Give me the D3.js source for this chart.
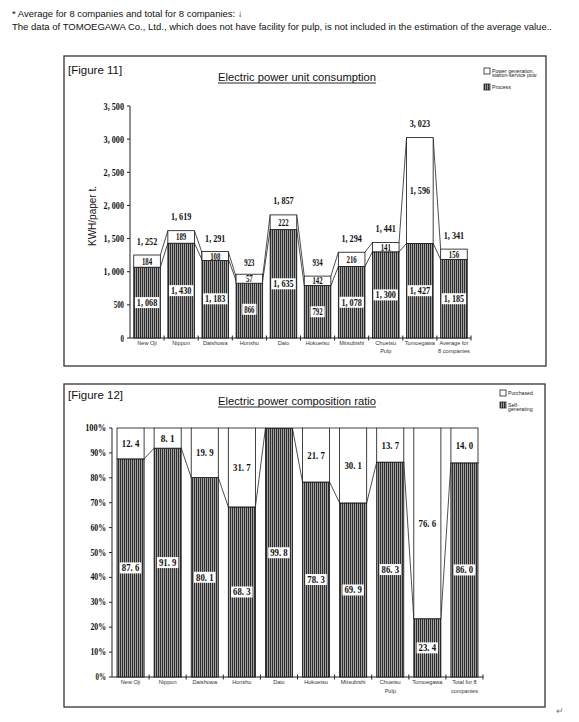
<!DOCTYPE html>
<html><head><meta charset="utf-8">
<script src="https://cdn.jsdelivr.net/npm/d3@7"></script>
<style>
html,body{margin:0;padding:0;background:#fff;}
svg{display:block;}
</style></head>
<body>
<svg id="c" width="579" height="722"></svg>
<script>
// ---------- DATA ----------
const notes = [
  "* Average for 8 companies and total for 8 companies: \u2193",
  "The data of TOMOEGAWA Co., Ltd., which does not have facility for pulp, is not included in the estimation of the average value.."
];
const categories11 = ["New Oji","Nippon","Daishowa","Honshu","Daio","Hokuetsu","Mitsubishi","Chuetsu\nPulp","Tomoegawa","Average for\n8 companies"];
const process11 = [1068,1430,1183,866,1635,792,1078,1300,1427,1185];
const powerGen11 = [184,189,108,57,222,142,216,141,1596,156];
const total11 = [1252,1619,1291,923,1857,934,1294,1441,3023,1341];
const yTicks11 = [0,500,1000,1500,2000,2500,3000,3500];
const legend11 = [["Power generation,","station-service pow"],["Process"]];

const categories12 = ["New Oji","Nippon","Daishowa","Honshu","Daio","Hokuetsu","Mitsubishi","Chuetsu\nPulp","Tomoegawa","Total for 8\ncompanies"];
const selfGen12 = [87.6,91.9,80.1,68.3,99.8,78.3,69.9,86.3,23.4,86.0];
const purchased12 = [12.4,8.1,19.9,31.7,0.2,21.7,30.1,13.7,76.6,14.0];
const yTicks12 = [0,10,20,30,40,50,60,70,80,90,100];
const legend12 = [["Purchased"],["Self-","generating"]];

// ---------- DRAW ----------
const svg = d3.select("#c");
const defs = svg.append("defs");
const pat = defs.append("pattern").attr("id","hatch").attr("patternUnits","userSpaceOnUse")
  .attr("width",2).attr("height",4);
pat.append("rect").attr("width",2).attr("height",4).attr("fill","#a0a0a0");
pat.append("rect").attr("width",1).attr("height",4).attr("fill","#2e2e2e");

const SANS = "'Liberation Sans', Arial, sans-serif";
const NUM = "'Liberation Serif', 'DejaVu Serif', serif";

// notes
svg.append("text").attr("x",12).attr("y",17).attr("font-family",SANS).attr("font-size",9.5)
  .attr("fill","#111").text(notes[0]);
svg.append("text").attr("x",12).attr("y",30).attr("font-family",SANS).attr("font-size",9.5)
  .attr("fill","#111").attr("textLength",540).attr("lengthAdjust","spacingAndGlyphs").text(notes[1]);
svg.append("text").attr("x",556).attr("y",714).attr("font-family",SANS).attr("font-size",9)
  .attr("fill","#777").text("\u21B5");

function fmtK(v){ return d3.format(",")(v).replace(",", ", "); }
function fmtP(v){ return v.toFixed(1).replace(".", ". "); }

function numText(g, x, y, str, size, perChar, anchor){
  const t = g.append("text").attr("x",x).attr("y",y).attr("font-family",NUM)
    .attr("font-weight","bold").attr("font-size",size).attr("fill","#111")
    .attr("text-anchor",anchor||"middle").attr("dominant-baseline","central").text(str);
  if (perChar) t.attr("textLength", str.length*perChar).attr("lengthAdjust","spacingAndGlyphs");
  return t;
}

function drawChart(cfg){
  const g = svg.append("g");
  g.append("rect").attr("x",cfg.frame[0]).attr("y",cfg.frame[1])
    .attr("width",cfg.frame[2]-cfg.frame[0]).attr("height",cfg.frame[3]-cfg.frame[1])
    .attr("fill","none").attr("stroke","#333").attr("stroke-width",1.3);
  g.append("text").attr("x",cfg.frame[0]+4).attr("y",cfg.figY).attr("font-family",SANS)
    .attr("font-size",11.5).attr("fill","#111").text(cfg.figLabel);
  g.append("text").attr("x",cfg.frame[0]+4+cfg.figW).attr("y",cfg.figY).attr("font-family",SANS)
    .attr("font-size",6).attr("fill","#999").text(".");
  const tt = g.append("text").attr("x",cfg.titleX).attr("y",cfg.titleY).attr("font-family",SANS)
    .attr("font-size",11.2).attr("fill","#111").attr("text-anchor","middle").text(cfg.title);
  const bb = tt.node().getBBox();
  g.append("line").attr("x1",bb.x).attr("x2",bb.x+bb.width).attr("y1",cfg.titleY+2).attr("y2",cfg.titleY+2)
    .attr("stroke","#111").attr("stroke-width",0.9);
  g.append("text").attr("x",bb.x+bb.width+2).attr("y",cfg.titleY).attr("font-family",SANS)
    .attr("font-size",6).attr("fill","#999").text(".");

  cfg.legend.forEach((lines,i)=>{
    const ly = cfg.legendY[i];
    g.append("rect").attr("x",cfg.legendX).attr("y",ly).attr("width",6).attr("height",6)
      .attr("fill", i===0 ? "#fff" : "url(#hatch)").attr("stroke","#222").attr("stroke-width",0.8);
    lines.forEach((ln,j)=>{
      g.append("text").attr("x",cfg.legendX+8).attr("y",ly+4.5+j*4.8).attr("font-family",SANS)
        .attr("font-size",5.2).attr("fill","#222").text(ln);
    });
  });

  const x = d3.scaleBand().domain(cfg.cats).range(cfg.xRange)
    .paddingInner(cfg.padIn).paddingOuter(cfg.padIn/2);
  const y = d3.scaleLinear().domain(cfg.yDomain).range(cfg.yRange);
  const bw = x.bandwidth();
  const step = x.step();

  g.append("line").attr("x1",cfg.xRange[0]).attr("x2",cfg.xRange[0])
    .attr("y1",y(cfg.yDomain[0])).attr("y2",y(cfg.yDomain[1])).attr("stroke","#222").attr("stroke-width",1);
  cfg.yTicks.forEach(t=>{
    g.append("line").attr("x1",cfg.xRange[0]-3).attr("x2",cfg.xRange[0]).attr("y1",y(t)).attr("y2",y(t))
      .attr("stroke","#222");
    numText(g, cfg.xRange[0]-6, y(t), cfg.yFmt(t), cfg.tickSize, cfg.tickPerChar, "end");
  });
  g.append("line").attr("x1",cfg.xRange[0]).attr("x2",cfg.xRange[1])
    .attr("y1",y(0)).attr("y2",y(0)).attr("stroke","#222");
  cfg.cats.forEach((c,i)=>{
    const tx = cfg.xRange[0] + (i+1)*step;
    g.append("line").attr("x1",tx).attr("x2",tx).attr("y1",y(0)-2.5).attr("y2",y(0)+2.5).attr("stroke","#222");
    c.split("\n").forEach((ln,j)=>{
      g.append("text").attr("x",x(c)+bw/2).attr("y",y(0)+cfg.xLabDy+j*8.5).attr("text-anchor","middle")
        .attr("font-family",SANS).attr("font-size",5.6).attr("fill","#333").text(ln);
    });
  });
  if (cfg.yLabel){
    g.append("text").attr("transform",`translate(${cfg.yLabelX},${cfg.yLabelY}) rotate(-90)`)
      .attr("text-anchor","middle").attr("font-family",SANS).attr("font-size",10).attr("fill","#111")
      .text(cfg.yLabel);
  }

  const lower = cfg.lower, upper = cfg.upper;
  const tops = lower.map((v,i)=>v+upper[i]);
  for (let i=0;i<cfg.cats.length-1;i++){
    const x1 = x(cfg.cats[i])+bw, x2 = x(cfg.cats[i+1]);
    [[lower[i],lower[i+1]],[tops[i],tops[i+1]]].forEach(([a,b])=>{
      g.append("line").attr("x1",x1).attr("x2",x2).attr("y1",y(a)).attr("y2",y(b))
        .attr("stroke","#222").attr("stroke-width",0.8);
    });
  }
  cfg.cats.forEach((c,i)=>{
    const bx = x(c);
    g.append("rect").attr("x",bx).attr("y",y(lower[i])).attr("width",bw).attr("height",y(0)-y(lower[i]))
      .attr("fill","url(#hatch)").attr("stroke","#111").attr("stroke-width",0.8);
    g.append("rect").attr("x",bx).attr("y",y(tops[i])).attr("width",bw).attr("height",y(lower[i])-y(tops[i]))
      .attr("fill","#fff").attr("stroke","#111").attr("stroke-width",0.8);
  });
  cfg.cats.forEach((c,i)=>{
    const cx = x(c)+bw/2;
    const ly = (y(0)+y(lower[i]))/2;
    const ls = cfg.valFmt(lower[i]);
    const lw = ls.length*cfg.valPerChar + 4;
    g.append("rect").attr("x",cx-lw/2).attr("y",ly-5.5).attr("width",lw).attr("height",11).attr("fill","#fff");
    numText(g, cx, ly, ls, cfg.valSize, cfg.valPerChar);
    if (upper[i] >= cfg.minUpper){
      const uy = (y(lower[i])+y(tops[i]))/2;
      const segH = y(lower[i])-y(tops[i]);
      if (segH < 9){
        g.append("rect").attr("x",x(c)).attr("y",uy-4.5).attr("width",bw).attr("height",9)
          .attr("fill","#fff").attr("stroke","#111").attr("stroke-width",0.8);
      }
      numText(g, cx, uy, cfg.valFmt(upper[i]), cfg.valSize, cfg.valPerChar);
    }
    if (cfg.totals){
      numText(g, cx, y(cfg.totals[i])-14, cfg.valFmt(cfg.totals[i]), cfg.valSize, cfg.valPerChar);
    }
  });
}

drawChart({
  frame:[64,56,546,366], figLabel:"[Figure 11]", figY:74, figW:56,
  title:"Electric power unit consumption", titleX:297, titleY:81,
  legend:legend11, legendX:484, legendY:[68,84],
  cats:categories11, xRange:[130,471], padIn:0.22,
  yDomain:[0,3500], yRange:[338,106], yTicks:yTicks11, yFmt:fmtK, tickSize:10, tickPerChar:3.4,
  xLabDy:6.5, yLabel:"KWH/paper t.", yLabelX:96, yLabelY:216,
  lower:process11, upper:powerGen11, totals:total11, minUpper:1,
  valFmt:fmtK, valSize:10, valPerChar:3.4
});

drawChart({
  frame:[64,384,545,707], figLabel:"[Figure 12]", figY:399, figW:56,
  title:"Electric power composition ratio", titleX:297, titleY:405,
  legend:legend12, legendX:500, legendY:[390,402],
  cats:categories12, xRange:[112,483], padIn:0.27,
  yDomain:[0,100], yRange:[677,428], yTicks:yTicks12, yFmt:d=>d+"%", tickSize:9.5, tickPerChar:5.2,
  xLabDy:7, yLabel:null,
  lower:selfGen12, upper:purchased12, totals:null, minUpper:1,
  valFmt:fmtP, valSize:10, valPerChar:3.5
});
</script>
</body></html>
